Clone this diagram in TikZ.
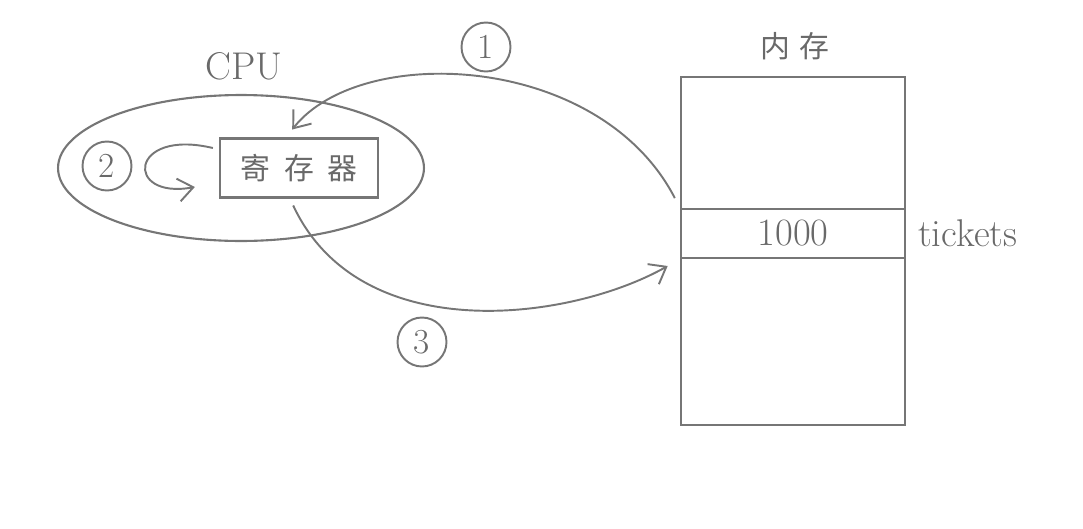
\documentclass[tikz,border=0pt]{standalone}
\usepackage{fontspec}
\newfontfamily\cjk{Noto Sans CJK SC}
\usepackage{tikz}
\usetikzlibrary{arrows.meta,positioning,shapes.geometric}
\definecolor{RKgray}{RGB}{118,118,118}
\definecolor{RKtext}{RGB}{105,105,105}
\tikzset{
  cpubox/.style={ellipse,draw=RKgray,line width=1.2pt,minimum width=7.32cm,minimum height=2.92cm},
  cell/.style={rectangle,draw=RKgray,line width=1.3pt,text=RKtext,inner sep=0pt,
               font=\fontsize{22}{26}\selectfont},
  num/.style={circle,draw=RKgray,line width=1.1pt,text=RKtext,minimum size=0.98cm,inner sep=0pt,
              font=\fontsize{20}{22}\selectfont},
  lbl/.style={text=RKtext,inner sep=1pt,font=\fontsize{22}{26}\selectfont},
  fl/.style={-{Straight Barb[length=3mm,width=4.6mm,line width=1.1pt]},line width=1.1pt,draw=RKgray}
}
\begin{document}
\begin{tikzpicture}[x=0.02cm,y=-0.02cm]
  \useasboundingbox (0,0) rectangle (1083,528);
  % CPU side
  \node[cpubox] (cpu) at (241,168) {};
  \node[lbl] (cpulbl) at (244,66) {CPU};
  \node[cell,minimum width=3.16cm,minimum height=1.18cm] (reg) at (299,168)
    {\cjk\fontsize{17}{20}\selectfont 寄\hspace{0.45em}存\hspace{0.45em}器};
  \node[num] (n2) at (107,166) {2};
  % memory
  \node[cell,minimum width=4.48cm,minimum height=6.96cm] (mem) at (793,251) {};
  \node[cell,minimum width=4.48cm,minimum height=0.98cm] (tk) at (793,233.5) {1000};
  \node[lbl] (memlbl) at (795,46) {\cjk\fontsize{17}{20}\selectfont 内\hspace{0.3em}存};
  \node[lbl,right=0.2cm of tk] (tklbl) {tickets};
  \node[num] (n1) at (486,47) {1};
  \node[num] (n3) at (422,342) {3};
  % steps
  \draw[fl,shorten <=0.22cm,shorten >=0.2cm] (tk.north west) .. controls +(-80,-155) and +(75,-95) .. ([xshift=-0.26cm]reg.north);
  \draw[fl] ([xshift=-0.12cm,yshift=0.4cm]reg.west) .. controls +(-84,-20) and +(-71,13) .. ([xshift=-0.48cm,yshift=-0.38cm]reg.west);
  \draw[fl,shorten <=0.15cm,shorten >=0.28cm] ([xshift=-0.18cm]reg.south) .. controls +(70,150) and +(-110,62) .. (tk.south west);
\end{tikzpicture}
\end{document}
